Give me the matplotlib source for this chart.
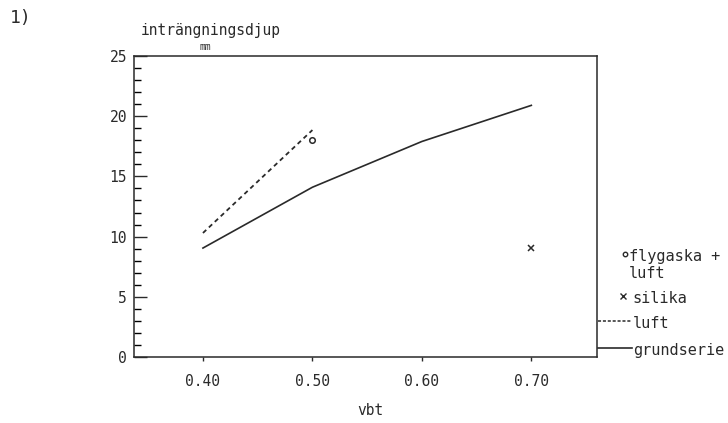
import matplotlib
matplotlib.use("Agg")
import matplotlib.pyplot as plt
from matplotlib.ticker import MultipleLocator
from matplotlib.lines import Line2D

# data
vbt_grund = [0.40, 0.50, 0.60, 0.70]
djup_grund = [9.05, 14.1, 17.9, 20.9]
vbt_luft = [0.40, 0.50]
djup_luft = [10.3, 18.85]
vbt_flyg = [0.50]
djup_flyg = [18.0]
vbt_silika = [0.70]
djup_silika = [9.05]
xticks = [0.40, 0.50, 0.60, 0.70]
xticklabels = ["0.40", "0.50", "0.60", "0.70"]
yticks = [0, 5, 10, 15, 20, 25]

MONO = ['DejaVu Sans Mono']
plt.rcParams['font.family'] = MONO
fig = plt.figure(figsize=(7.28, 4.23), dpi=100)
ax = fig.add_axes([134/728, 1-357/423, (597-134)/728, (357-56)/423])
c = '#2a2a2a'
ax.plot(vbt_grund, djup_grund, color=c, lw=1.2)
ax.plot(vbt_luft, djup_luft, color=c, lw=1.3, ls=(0, (2.5, 2)))
ax.plot(vbt_flyg, djup_flyg, ls='none', marker='o', ms=4, mfc='none', mec=c, mew=1.1)
ax.plot(vbt_silika, djup_silika, ls='none', marker='x', ms=5, mec=c, mew=1.1)

ax.set_xlim(0.337, 0.760)
ax.set_ylim(0, 25)
ax.set_xticks(xticks)
ax.set_xticklabels(xticklabels)
ax.set_yticks(yticks)
ax.yaxis.set_minor_locator(MultipleLocator(1))
ax.tick_params(colors=c, labelsize=10.5, width=1.0)
ax.tick_params(axis='y', which='major', direction='in', length=9, pad=5)
ax.tick_params(axis='y', which='minor', direction='in', length=5, width=1.0)
ax.tick_params(axis='x', which='major', direction='out', length=3, pad=9)
for s in ax.spines.values():
    s.set_color(c)
    s.set_linewidth(1.1)

def fx(px):
    return px/728
def fy(py):
    return 1-py/423

fig.text(fx(10), fy(18), "1)", fontsize=13, color=c, va='center', ha='left')
fig.text(fx(211), fy(30), "inträngningsdjup", fontsize=10.5, color=c, va='center', ha='center')
fig.text(fx(205), fy(47), "mm", fontsize=7, color=c, va='center', ha='center')
fig.text(fx(370), fy(410), "vbt", fontsize=10.5, color=c, va='center', ha='center')

# legend (custom, outside right)
fig.add_artist(Line2D([fx(625)], [fy(254)], marker='o', ms=3.2, mfc='none', mec=c, mew=1.0, transform=fig.transFigure))
fig.text(fx(629), fy(257), "flygaska +", fontsize=11, color=c, va='center', ha='left')
fig.text(fx(629), fy(273), "luft", fontsize=11, color=c, va='center', ha='left')
fig.add_artist(Line2D([fx(623)], [fy(296)], marker='x', ms=4, mec=c, mew=1.0, transform=fig.transFigure))
fig.text(fx(632), fy(298), "silika", fontsize=11, color=c, va='center', ha='left')
fig.add_artist(Line2D([fx(598), fx(632)], [fy(321), fy(321)], color=c, lw=1.1, ls=(0, (2, 1.2)), transform=fig.transFigure))
fig.text(fx(633), fy(323), "luft", fontsize=11, color=c, va='center', ha='left')
fig.add_artist(Line2D([fx(598), fx(632)], [fy(348), fy(348)], color=c, lw=1.2, transform=fig.transFigure))
fig.text(fx(633), fy(350), "grundserie", fontsize=11, color=c, va='center', ha='left')

fig.savefig("out.png", dpi=100)
